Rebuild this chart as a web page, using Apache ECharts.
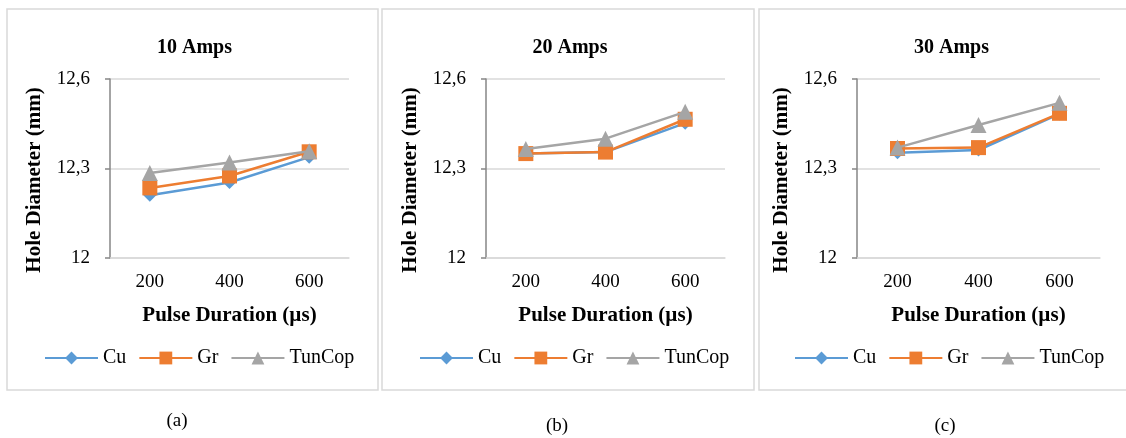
<!DOCTYPE html>
<html>
<head>
<meta charset="utf-8">
<script src="https://cdn.jsdelivr.net/npm/echarts@6/dist/echarts.min.js"></script>
<style>
  html, body { margin: 0; padding: 0; background: #fff; }
  #main { width: 1126px; height: 438px; }
</style>
</head>
<body>
<div id="main"></div>
<script>
// data
var categories = ['200', '400', '600'];
var panelTitles = ['10 Amps', '20 Amps', '30 Amps'];
var captions = ['(a)', '(b)', '(c)'];
var seriesNames = ['Cu', 'Gr', 'TunCop'];

var cu10 = [12.21, 12.253, 12.338];
var gr10 = [12.235, 12.275, 12.356];
var tun10 = [12.285, 12.32, 12.358];

var cu20 = [12.35, 12.355, 12.452];
var gr20 = [12.35, 12.355, 12.465];
var tun20 = [12.365, 12.40, 12.49];

var cu30 = [12.353, 12.362, 12.483];
var gr30 = [12.367, 12.37, 12.485];
var tun30 = [12.37, 12.446, 12.52];

var panelData = [[cu10, gr10, tun10], [cu20, gr20, tun20], [cu30, gr30, tun30]];

var colors = ['#5B9BD5', '#ED7D31', '#A5A5A5'];
var symbols = ['diamond', 'rect', 'triangle'];
var symbolSizes = [13, 15, 16];

// panel boxes: left, right, plot left, plot right, caption center, legend left
var panels = [
  {x0: 7, x1: 378, gl: 110, gr: 349, cap: 177, legend: 39},
  {x0: 382, x1: 754, gl: 486, gr: 725, cap: 557, legend: 414},
  {x0: 759, x1: 1140, gl: 857, gr: 1100, cap: 945, legend: 789}
];

var font = '"Liberation Serif", "Times New Roman", serif';

var myChart = echarts.init(document.getElementById('main'));

var grids = [], xAxes = [], yAxes = [], series = [], titles = [], legends = [], graphics = [];

panels.forEach(function (p, i) {
  graphics.push({
    type: 'rect',
    shape: {x: p.x0, y: 9, width: p.x1 - p.x0, height: 381},
    style: {fill: 'none', stroke: '#d9d9d9', lineWidth: 1.5},
    silent: true
  });
  graphics.push({
    type: 'text',
    x: p.cap, y: i == 0 ? 421 : 426,
    style: {text: captions[i], fill: '#000', font: '19px ' + font, align: 'center', verticalAlign: 'middle'}
  });
  // y axis name, sits a bit lower than the plot middle
  graphics.push({
    type: 'text',
    x: p.gl - 75, y: 180,
    rotation: Math.PI / 2,
    style: {text: 'Hole Diameter (mm)', fill: '#000', font: 'bold 21px ' + font, align: 'center', verticalAlign: 'middle'}
  });

  titles.push({
    text: panelTitles[i],
    left: (p.x0 + p.x1) / 2 - 3, top: 33,
    textAlign: 'center',
    textStyle: {fontFamily: font, fontWeight: 'bold', fontSize: 20, color: '#000'}
  });

  grids.push({left: p.gl, width: p.gr - p.gl, top: 79, height: 179});

  xAxes.push({
    type: 'category', gridIndex: i, data: categories,
    axisLine: {lineStyle: {color: '#d9d9d9', width: 1.5}},
    axisTick: {show: false},
    axisLabel: {fontFamily: font, fontSize: 19, color: '#000', margin: 15},
    name: 'Pulse Duration (µs)', nameLocation: 'middle', nameGap: 47,
    nameTextStyle: {fontFamily: font, fontWeight: 'bold', fontSize: 21, color: '#000'}
  });

  yAxes.push({
    type: 'value', gridIndex: i, min: 12, max: 12.6, interval: 0.3,
    axisLine: {show: true, lineStyle: {color: '#868686', width: 1.5}},
    axisTick: {show: true, length: 5, lineStyle: {color: '#868686', width: 1.5}},
    splitLine: {lineStyle: {color: '#d9d9d9', width: 1.5}},
    axisLabel: {
      fontFamily: font, fontSize: 19, color: '#000', margin: 20,
      formatter: function (v) { return String(Math.round(v * 10) / 10).replace('.', ','); }
    }
  });

  legends.push({
    data: seriesNames,
    left: p.legend, top: 343,
    itemWidth: 53, itemHeight: 16, itemGap: 12,
    textStyle: {fontFamily: font, fontSize: 20, color: '#000'}
  });

  for (var s = 0; s < 3; s++) {
    series.push({
      name: seriesNames[s], type: 'line',
      xAxisIndex: i, yAxisIndex: i,
      data: panelData[i][s],
      color: colors[s],
      symbol: symbols[s], symbolSize: symbolSizes[s],
      lineStyle: {width: 2.5},
      z: 2 + s
    });
  }
});

myChart.setOption({
  animation: false,
  title: titles,
  legend: legends,
  grid: grids,
  xAxis: xAxes,
  yAxis: yAxes,
  series: series,
  graphic: graphics
});
</script>
</body>
</html>
